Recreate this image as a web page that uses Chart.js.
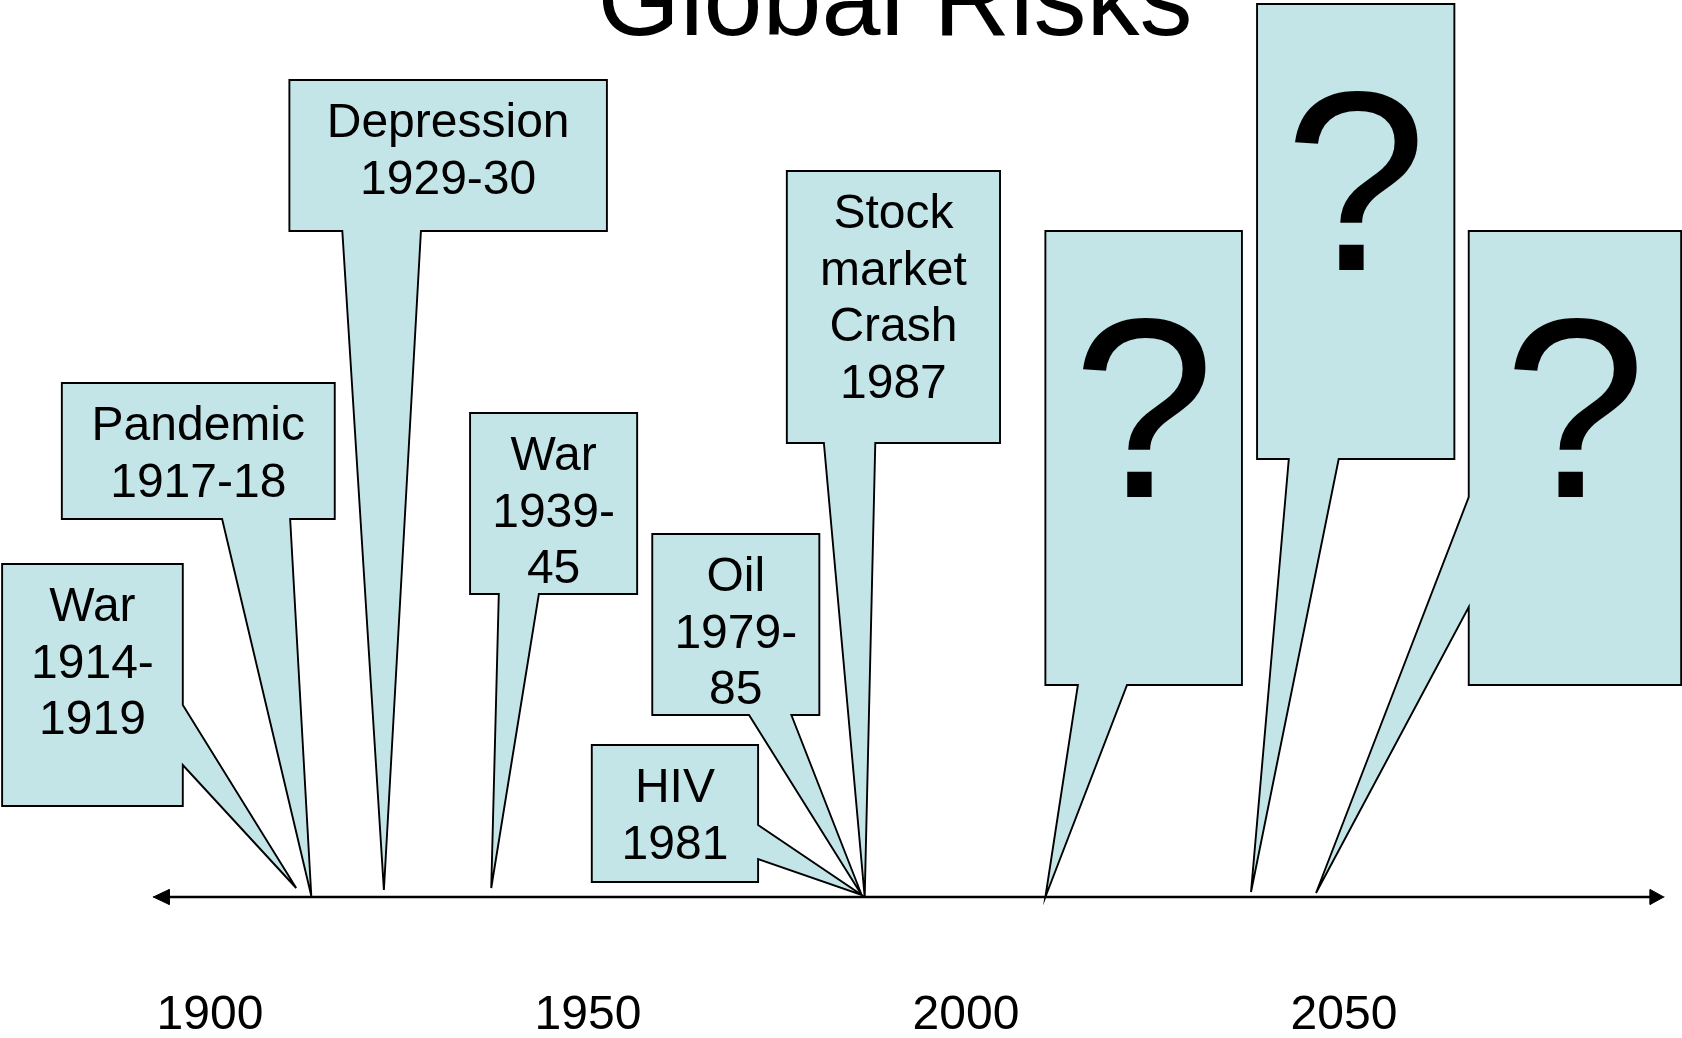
<!DOCTYPE html>
<html>
<head>
<meta charset="utf-8">
<title>Global Risks</title>
<script src="https://cdn.jsdelivr.net/npm/chart.js@4.4.1/dist/chart.umd.min.js"></script>
<style>
  html, body { margin: 0; padding: 0; background: #fff; overflow: hidden; }
  #timeline { display: block; }
</style>
</head>
<body>
<canvas id="timeline" width="1682" height="1038"></canvas>
<script>
const FONT = "'Liberation Sans', Arial, sans-serif";
const BOX_FILL = '#c4e5e8';

// data
const titleText = 'Global Risks';
const tickYears = [1900, 1950, 2000, 2050];
const eventLines = [
  ['War', '1914-', '1919'],
  ['Pandemic', '1917-18'],
  ['Depression', '1929-30'],
  ['War', '1939-', '45'],
  ['Oil', '1979-', '85'],
  ['HIV', '1981'],
  ['Stock', 'market', 'Crash', '1987'],
  ['?'],
  ['?'],
  ['?']
];
// where each pointer touches the timeline (years)
const pointerYears = [1911.4, 1913.4, 1923.0, 1937.2, 1986.2, 1986.2, 1986.6, 2010.5, 2037.7, 2046.3];

// callout layout, in axis units: [fromYear, toYear, top, bottom] (y = px above the timeline)
const boxLayout = [
  [1872.5, 1896.4, 333, 91],
  [1880.4, 1916.5, 514, 378],
  [1910.5, 1952.5, 817, 666],
  [1934.4, 1956.5, 484, 303],
  [1958.5, 1980.6, 363, 182],
  [1950.5, 1972.5, 152, 15],
  [1976.3, 2004.5, 726, 454],
  [2010.5, 2036.5, 666, 212],
  [2038.5, 2064.6, 893, 438],
  [2066.5, 2094.6, 666, 212]
];
// side the pointer leaves from, its two base points on that side, tip height
const tailLayout = [
  ['right', 192, 132, 9],
  ['bottom', 1901.6, 1910.6, 1],
  ['bottom', 1917.5, 1927.9, 7],
  ['bottom', 1938.2, 1943.5, 9],
  ['bottom', 1971.3, 1976.9, 2],
  ['right', 72, 38, 2],
  ['bottom', 1981.2, 1988.0, 0],
  ['bottom', 2014.8, 2021.3, 0],
  ['bottom', 2042.7, 2049.3, 5],
  ['left', 400, 290, 4]
];
// timeline arrow: tip years and arrowhead base years
const arrowTips = [1892.5, 2092.3];
const arrowBases = [1894.6, 2090.5];
const ARROW_HALF = 7.5;

function calloutPoints(i) {
  const [x0, x1, top, bottom] = boxLayout[i];
  const [side, a, b, tipH] = tailLayout[i];
  const tip = { x: pointerYears[i], y: tipH };
  let pts;
  if (side === 'bottom') {
    pts = [{ x: x0, y: top }, { x: x1, y: top }, { x: x1, y: bottom }, { x: b, y: bottom }, tip, { x: a, y: bottom }, { x: x0, y: bottom }];
  } else if (side === 'right') {
    pts = [{ x: x0, y: top }, { x: x1, y: top }, { x: x1, y: a }, tip, { x: x1, y: b }, { x: x1, y: bottom }, { x: x0, y: bottom }];
  } else {
    pts = [{ x: x0, y: top }, { x: x1, y: top }, { x: x1, y: bottom }, { x: x0, y: bottom }, { x: x0, y: b }, tip, { x: x0, y: a }];
  }
  pts.push({ x: x0, y: top });
  return pts;
}

const lineBase = {
  showLine: true,
  borderColor: '#000',
  pointRadius: 0,
  pointHoverRadius: 0,
  tension: 0,
  borderJoinStyle: 'miter',
  borderCapStyle: 'square',
  clip: false,
  fill: false
};

const datasets = [
  Object.assign({}, lineBase, {
    data: [{ x: arrowBases[0], y: 0 }, { x: arrowBases[1], y: 0 }],
    borderWidth: 2.6,
    borderCapStyle: 'butt'
  }),
  Object.assign({}, lineBase, {
    data: [{ x: arrowTips[0], y: 0 }, { x: arrowBases[0], y: ARROW_HALF }, { x: arrowBases[0], y: -ARROW_HALF }, { x: arrowTips[0], y: 0 }],
    borderWidth: 1,
    shapeFill: '#000'
  }),
  Object.assign({}, lineBase, {
    data: [{ x: arrowTips[1], y: 0 }, { x: arrowBases[1], y: ARROW_HALF }, { x: arrowBases[1], y: -ARROW_HALF }, { x: arrowTips[1], y: 0 }],
    borderWidth: 1,
    shapeFill: '#000'
  })
];
eventLines.forEach((lines, i) => {
  datasets.push(Object.assign({}, lineBase, {
    data: calloutPoints(i),
    borderWidth: 1.9,
    shapeFill: BOX_FILL
  }));
});

// fills each closed outline and writes the callout texts
const calloutPainter = {
  id: 'calloutPainter',
  beforeDatasetDraw(chart, args) {
    const fillColor = chart.data.datasets[args.index].shapeFill;
    if (!fillColor) return;
    const ctx = chart.ctx;
    ctx.save();
    ctx.beginPath();
    args.meta.data.forEach((p, k) => (k ? ctx.lineTo(p.x, p.y) : ctx.moveTo(p.x, p.y)));
    ctx.closePath();
    ctx.fillStyle = fillColor;
    ctx.fill();
    ctx.restore();
  },
  afterDatasetsDraw(chart) {
    const { ctx, scales: { x, y } } = chart;
    ctx.save();
    ctx.fillStyle = '#000';
    ctx.textAlign = 'center';
    ctx.textBaseline = 'alphabetic';
    eventLines.forEach((lines, i) => {
      const [x0, x1, top] = boxLayout[i];
      const cx = (x.getPixelForValue(x0) + x.getPixelForValue(x1)) / 2;
      const ty = y.getPixelForValue(top);
      if (lines[0] === '?') {
        ctx.font = '256px ' + FONT;
        ctx.fillText('?', cx, ty + 266);
      } else {
        ctx.font = '48px ' + FONT;
        lines.forEach((s, k) => ctx.fillText(s, cx, ty + 57 + k * 56.5));
      }
    });
    ctx.font = '106px ' + FONT;
    ctx.fillText(titleText, 895, 34.5);
    ctx.restore();
  }
};

new Chart(document.getElementById('timeline'), {
  type: 'scatter',
  data: { datasets: datasets },
  options: {
    responsive: false,
    animation: false,
    devicePixelRatio: 1,
    events: [],
    layout: { padding: 0 },
    plugins: {
      legend: { display: false },
      tooltip: { enabled: false },
      title: { display: false }
    },
    scales: {
      x: {
        type: 'linear',
        min: 1872.22,
        max: 2094.71,
        afterBuildTicks: (scale) => {
          scale.ticks = tickYears.map(v => ({ value: v }));
        },
        afterFit: (scale) => {
          scale.height = 141;
        },
        ticks: {
          autoSkip: false,
          maxRotation: 0,
          padding: 95,
          color: '#000',
          font: { family: FONT, size: 48, lineHeight: 1 },
          callback: (v) => String(v)
        },
        grid: { display: false, drawTicks: false },
        border: { display: false }
      },
      y: {
        display: false,
        min: 0,
        max: 897
      }
    }
  },
  plugins: [calloutPainter]
});
</script>
</body>
</html>
